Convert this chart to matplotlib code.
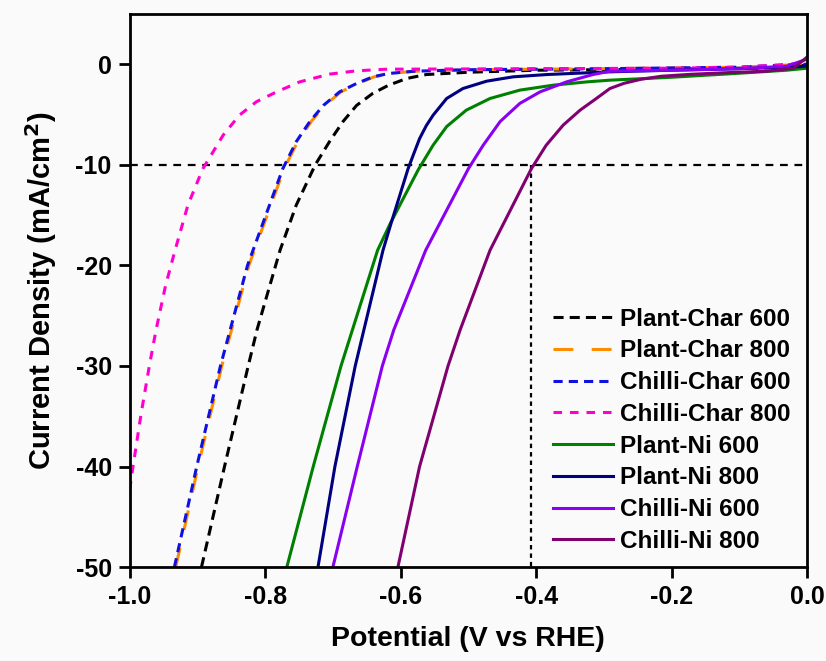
import numpy as np
import matplotlib.pyplot as plt

plt.rcParams['font.family'] = ['Liberation Sans', 'DejaVu Sans']
plt.rcParams['font.weight'] = 'bold'

# potential (V vs RHE) and current density (mA/cm2)
pc600_x = [-0.894, -0.860, -0.825, -0.812, -0.778, -0.754, -0.726, -0.705, -0.685, -0.665, -0.641, -0.618, -0.591, -0.562, -0.50, -0.40, -0.20, -0.05, 0.0]
pc600_y = [-50.0, -40.0, -30.0, -26.4, -18.5, -14.0, -10.0, -7.7, -5.7, -4.1, -2.9, -2.1, -1.42, -1.03, -0.8, -0.6, -0.5, -0.35, -0.1]

pc800_x = [-0.932, -0.899, -0.864, -0.824, -0.772, -0.752, -0.732, -0.712, -0.688, -0.663, -0.639, -0.616, -0.58, -0.50, -0.30, -0.10, 0.0]
pc800_y = [-50.0, -40.0, -30.0, -20.0, -10.4, -7.7, -5.7, -4.1, -2.75, -1.92, -1.26, -0.93, -0.7, -0.55, -0.45, -0.3, 0.0]

cc600_x = [-0.934, -0.901, -0.866, -0.826, -0.774, -0.754, -0.734, -0.714, -0.690, -0.665, -0.641, -0.618, -0.58, -0.50, -0.30, -0.10, 0.0]
cc600_y = [-50.0, -40.0, -30.0, -20.0, -10.4, -7.7, -5.7, -4.1, -2.75, -1.92, -1.26, -0.93, -0.7, -0.55, -0.45, -0.3, 0.0]

cc800_x = [-1.0, -0.996, -0.983, -0.971, -0.961, -0.947, -0.933, -0.914, -0.892, -0.862, -0.838, -0.813, -0.783, -0.749, -0.705, -0.665, -0.621, -0.40, -0.20, -0.10, 0.0]
cc800_y = [-42.3, -40.4, -34.7, -30.0, -26.4, -22.0, -18.5, -14.0, -10.4, -7.06, -5.07, -3.74, -2.75, -1.76, -0.99, -0.66, -0.5, -0.45, -0.4, -0.3, 0.1]

pn600_x = [-0.768, -0.729, -0.688, -0.634, -0.615, -0.574, -0.552, -0.532, -0.503, -0.468, -0.424, -0.375, -0.325, -0.291, -0.20, -0.10, -0.03, 0.0]
pn600_y = [-50.0, -40.0, -30.0, -18.5, -15.8, -10.5, -8.05, -6.2, -4.57, -3.41, -2.58, -2.09, -1.76, -1.59, -1.3, -0.9, -0.6, -0.4]

pn800_x = [-0.722, -0.697, -0.667, -0.626, -0.614, -0.589, -0.580, -0.572, -0.562, -0.552, -0.532, -0.508, -0.473, -0.434, -0.384, -0.291, -0.20, -0.10, -0.03, 0.0]
pn800_y = [-50.0, -40.0, -30.0, -18.5, -15.8, -10.4, -8.8, -7.4, -6.1, -5.07, -3.41, -2.42, -1.69, -1.26, -1.03, -0.76, -0.6, -0.45, -0.3, -0.2]

cn600_x = [-0.700, -0.664, -0.627, -0.610, -0.563, -0.500, -0.478, -0.453, -0.424, -0.394, -0.355, -0.316, -0.291, -0.20, -0.10, -0.03, 0.0]
cn600_y = [-50.0, -40.0, -30.0, -26.4, -18.5, -10.4, -8.05, -5.7, -3.9, -2.75, -1.76, -1.03, -0.7, -0.6, -0.45, -0.2, 0.5]

cn800_x = [-0.604, -0.572, -0.530, -0.512, -0.468, -0.407, -0.385, -0.360, -0.335, -0.311, -0.291, -0.270, -0.245, -0.215, -0.17, -0.12, -0.06, -0.02, 0.0]
cn800_y = [-50.0, -40.0, -30.0, -26.4, -18.5, -10.4, -8.05, -6.06, -4.57, -3.41, -2.42, -1.9, -1.5, -1.2, -1.0, -0.85, -0.7, -0.4, 0.7]

ref_y = -10.0
ref_x = -0.408

fig, ax = plt.subplots(figsize=(8.26, 6.61), dpi=100)
fig.patch.set_facecolor('#fafafa')
ax.set_facecolor('#fafafa')
fig.subplots_adjust(left=0.157, right=0.977, top=0.979, bottom=0.142)

lw = 2.2
ax.plot([-1.0, 0.0], [ref_y, ref_y], color='black', lw=1.6, dashes=(3.5, 3.0))
ax.plot([ref_x, ref_x], [ref_y, -50.0], color='black', lw=1.6, dashes=(2.0, 1.8))

ax.plot(pc600_x, pc600_y, color='black', lw=lw, dashes=(3.3, 2.0), label='Plant-Char 600')
ax.plot(pc800_x, pc800_y, color='#ff8c00', lw=lw, dashes=(6.5, 6.0), label='Plant-Char 800')
ax.plot(cc600_x, cc600_y, color='#1010e0', lw=lw, dashes=(3.0, 2.0), label='Chilli-Char 600')
ax.plot(cc800_x, cc800_y, color='#ff00cc', lw=lw, dashes=(2.8, 2.6), label='Chilli-Char 800')
ax.plot(pn600_x, pn600_y, color='#008000', lw=lw, label='Plant-Ni 600')
ax.plot(pn800_x, pn800_y, color='#000080', lw=lw, label='Plant-Ni 800')
ax.plot(cn600_x, cn600_y, color='#8a00f0', lw=lw, label='Chilli-Ni 600')
ax.plot(cn800_x, cn800_y, color='#800070', lw=lw, label='Chilli-Ni 800')

ax.set_xlim(-1.0, 0.0)
ax.set_ylim(-50, 5)
ax.set_xticks(np.arange(-1.0, 0.01, 0.2))
ax.set_xticklabels(['-1.0', '-0.8', '-0.6', '-0.4', '-0.2', '0.0'])
ax.set_yticks([-50, -40, -30, -20, -10, 0])
ax.set_yticklabels(['-50', '-40', '-30', '-20', '-10', '0'])

for s in ax.spines.values():
    s.set_linewidth(2.0)
ax.tick_params(direction='out', length=8, width=2.0, labelsize=18, pad=5)
for t in ax.get_xticklabels() + ax.get_yticklabels():
    t.set_fontweight('bold')

ax.set_xlabel('Potential (V vs RHE)', fontsize=20.5, fontweight='bold', labelpad=12)
ax.set_ylabel('Current Density (mA/cm$^\\mathbf{2}$)', fontsize=21, fontweight='bold', labelpad=12)

leg = ax.legend(loc='upper left', bbox_to_anchor=(0.625, 0.469), frameon=False,
                fontsize=17.5, handlelength=2.45, handletextpad=0.3, labelspacing=0.36,
                borderaxespad=0, borderpad=0)
for t in leg.get_texts():
    t.set_fontweight('bold')

fig.savefig('out.png', dpi=100, facecolor=fig.get_facecolor())
